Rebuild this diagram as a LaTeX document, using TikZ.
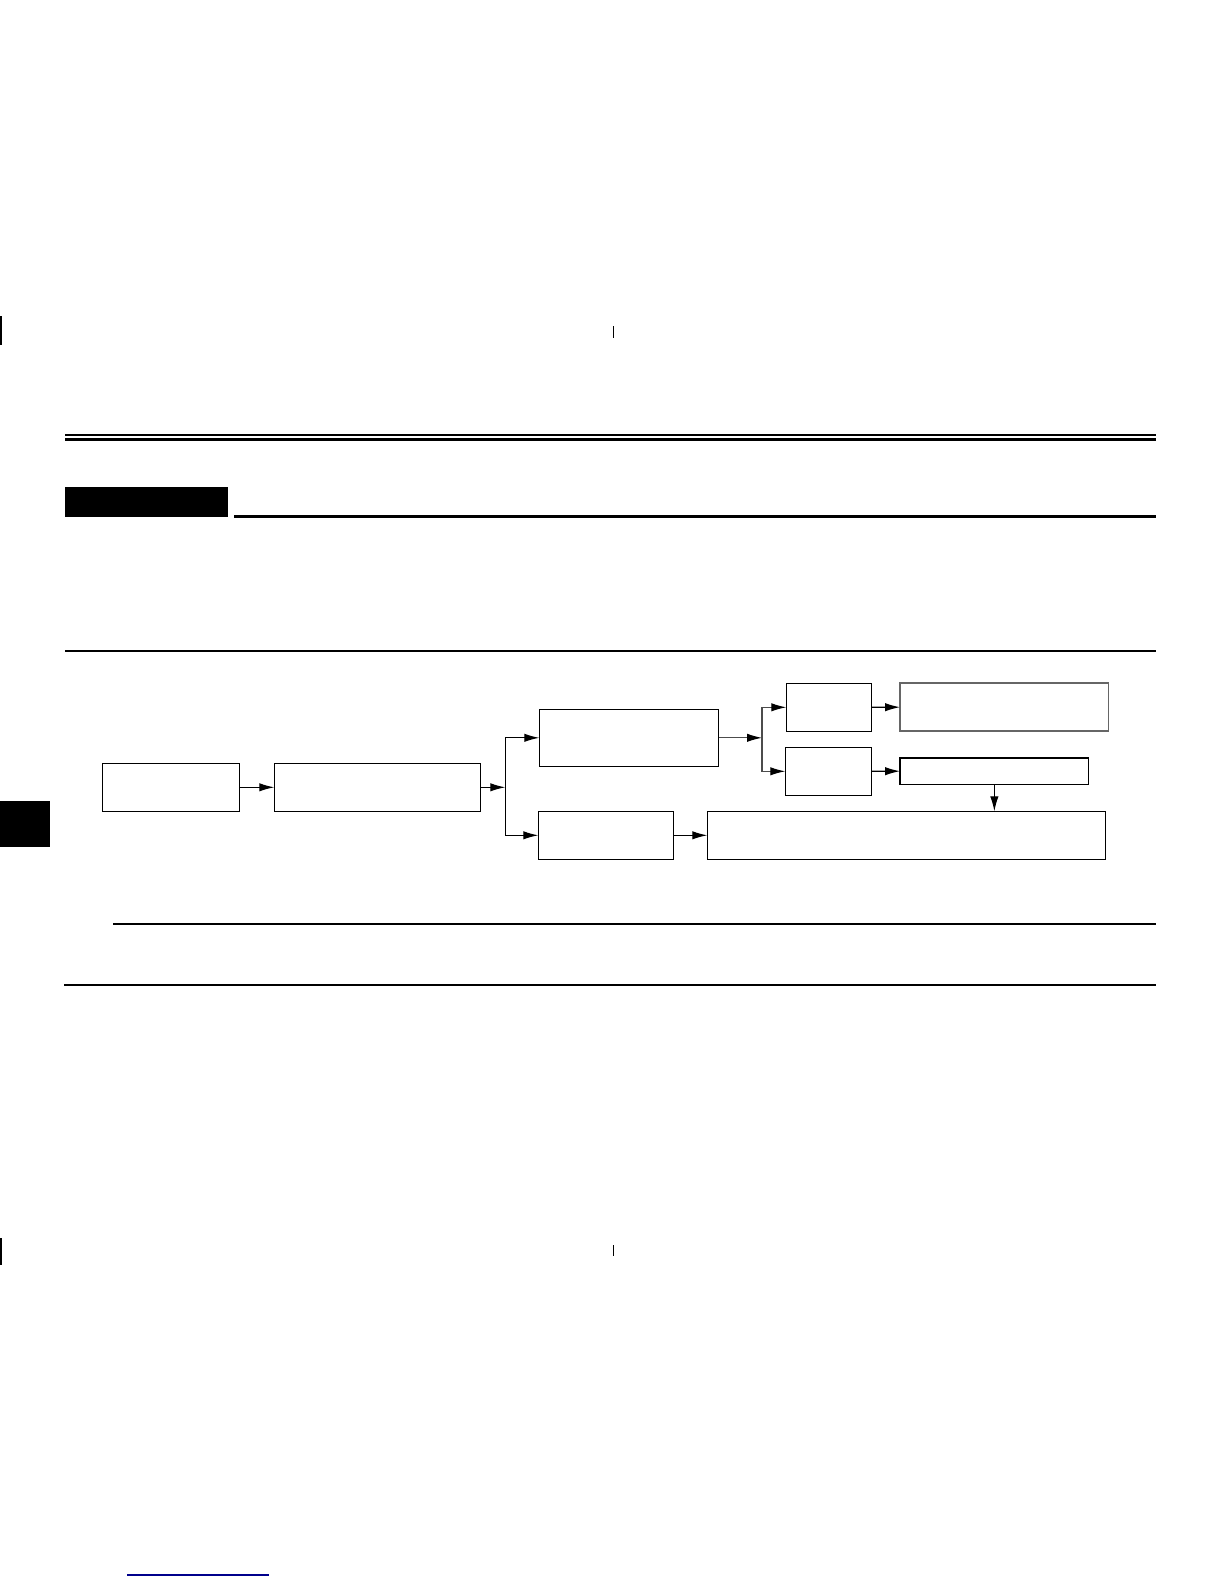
\documentclass[tikz,border=0pt]{standalone}
\usepackage{tikz}
\usetikzlibrary{arrows.meta}

\tikzset{
  box/.style={draw, line width=0.6pt, inner sep=0pt, outer sep=0pt, anchor=north west, minimum height=24pt},
  arr/.style={line width=0.6pt, -{Latex[length=7.5pt,width=4.2pt,black]}},
  rule/.style={line width=0.6pt}
}

\begin{document}
\begin{tikzpicture}[x=0.5pt, y=-0.5pt]
      % Page frame (pixel grid, y down)
      \useasboundingbox (0,0) rectangle (1224,1584);

      % Crop marks at top
      \draw[line width=1pt] (1,316) -- (1,345);
      \draw[line width=0.5pt] (613,326) -- (613,338);

      % Double rule and heading bar
      \draw[line width=1pt] (65,435) -- (1156,435);
      \draw[line width=1.5pt] (65,439.5) -- (1156,439.5);
      \fill (65,487) rectangle (228,517);
      \draw[line width=1.4pt] (234,516.3) -- (1156,516.3);

      % Rule above the chart
      \draw[line width=0.75pt] (65,651) -- (1156,651);

      % Side tab
      \fill (0,801) rectangle (49.5,847);

      % First row of boxes
      \node[box, minimum width=68.5pt] (first) at (102.3,763.3) {};
      \node[box, minimum width=103pt] (second) at (274.3,763.3) {};
      \draw[arr] (first) -- (second);

      % Split into upper and lower branch
      \coordinate (j1) at (505.3,787.3);
      \node[box, minimum width=89.7pt, minimum height=28.5pt] (upper) at (539.3,709.3) {};
      \node[box, minimum width=67.5pt] (lower) at (538.3,811.3) {};
      \draw[arr] (second) -- (j1);
      \draw[arr] (j1) |- (upper.west);
      \draw[arr] (j1) |- (lower.west);

      % Upper branch splits again
      \coordinate (j2) at (762,737.8);
      \node[box, minimum width=42.7pt] (split1) at (786.3,683.3) {};
      \node[box, minimum width=43.2pt] (split2) at (785.3,747.3) {};
      \draw[arr, draw=black!70] (upper) -- (j2);
      \draw[arr, draw=black!70] (j2) |- (split1.west);
      \draw[arr, draw=black!70] (j2) |- (split2.west);

      % Outputs of the two splits
      \node[box, draw=black!60, minimum width=104.35pt] (out1) at (900,683) {};
      \node[box, minimum width=94.35pt, minimum height=13.3pt] (out2) at (900,757.7) {};
      \draw[line width=1pt] (out2.north west) -- (out2.north east);
      \draw[arr] (split1) -- (out1);
      \draw[arr] (split2) -- (out2);

      % Long result box
      \node[box, minimum width=199pt] (result) at (707.3,811.3) {};
      \draw[arr] (lower) -- (result);
      \draw[arr] (out2.south) -- (out2.south |- result.north);

      % Rules below the chart
      \draw[rule] (113,924) -- (1156,924);
      \draw[rule] (64,985) -- (1156,985);

      % Crop marks at bottom
      \draw[line width=1pt] (1,1238) -- (1,1265);
      \draw[line width=0.5pt] (613,1245) -- (613,1256);

      % Link line at foot
      \draw[line width=0.6pt, draw={rgb,255:red,0;green,0;blue,140}] (127,1575) -- (269,1575);
\end{tikzpicture}
\end{document}
